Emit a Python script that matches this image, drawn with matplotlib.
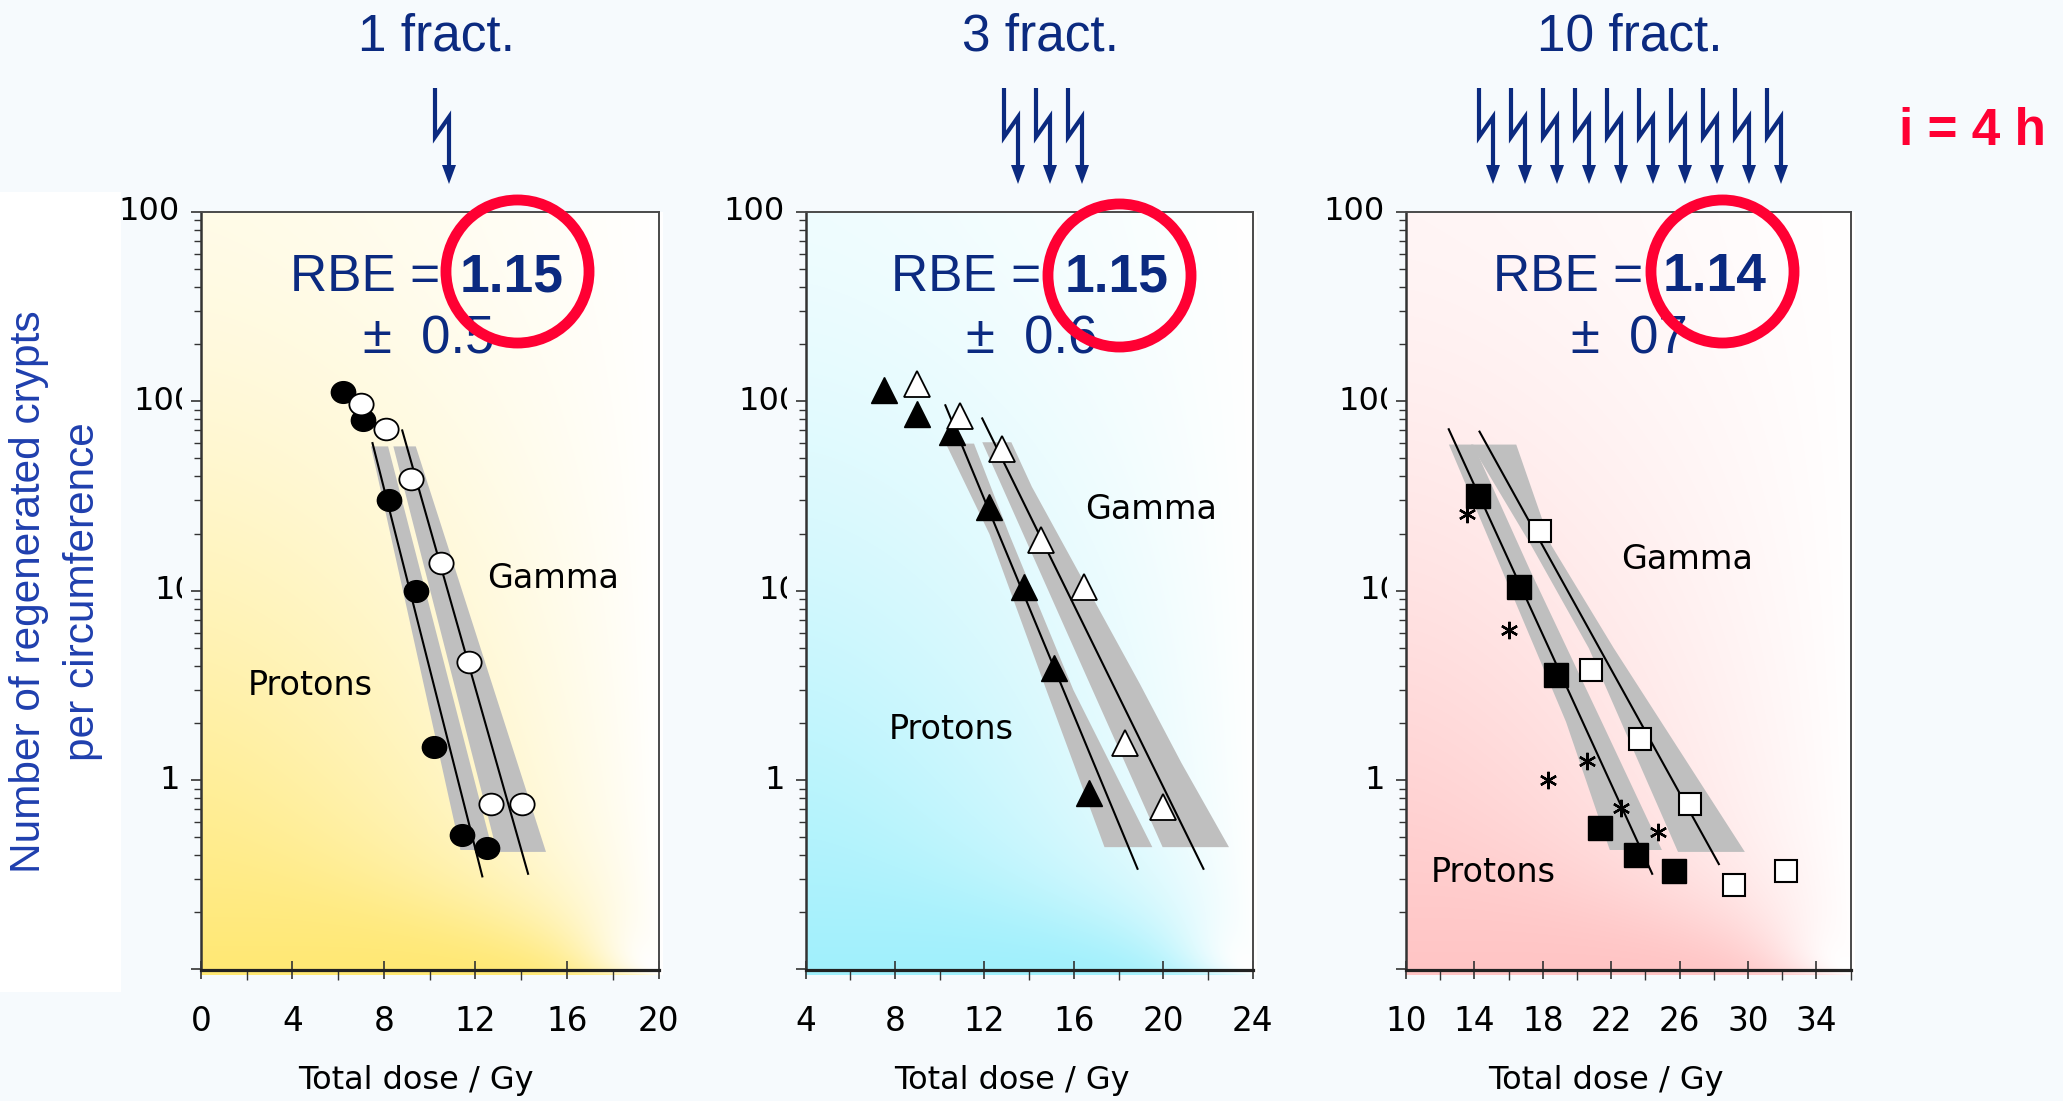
import numpy as np
import matplotlib
matplotlib.use("Agg")
import matplotlib.pyplot as plt
from matplotlib.path import Path
from matplotlib.patches import Rectangle, Polygon
from matplotlib.transforms import Affine2D, Bbox, TransformedBbox, offset_copy
from matplotlib.ticker import LogLocator, MultipleLocator, NullFormatter, FixedLocator
from matplotlib.colors import to_rgb

# ---------------------------------------------------------------- data
fractions = [1, 3, 10]
titles = ["1 fract.", "3 fract.", "10 fract."]
interval_label = "i = 4 h"
rbe_values = ["1.15", "1.15", "1.14"]
rbe_errors = ["\u00b1 0.5", "\u00b1 0.6", "\u00b1 07"]

x_limits = [(0, 20), (4, 24), (10, 36)]
x_major_ticks = [[0, 4, 8, 12, 16, 20], [4, 8, 12, 16, 20, 24],
                 [10, 14, 18, 22, 26, 30, 34]]
y_tick_values = [1000, 100, 10, 1]
y_tick_labels = ["100", "100", "10", "1"]

# 1 fraction
dose1_protons = [6.2, 7.1, 8.2, 9.4, 10.2, 11.4, 12.5]
crypts1_protons = [112, 79, 30, 9.9, 1.5, 0.51, 0.44]
dose1_gamma = [7.0, 8.1, 9.2, 10.5, 11.7, 12.7, 14.05]
crypts1_gamma = [96, 71, 39, 14, 4.2, 0.75, 0.75]
fit1_protons_dose = [7.5, 12.3]
fit1_protons_crypts = [60, 0.31]
fit1_gamma_dose = [8.8, 14.3]
fit1_gamma_crypts = [70, 0.32]
band1_protons_levels = [58, 0.43]
band1_protons_low = [7.41, 11.32]
band1_protons_high = [8.16, 12.72]
band1_gamma_levels = [58, 0.42]
band1_gamma_low = [8.39, 12.92]
band1_gamma_high = [9.37, 15.06]

# 3 fractions
dose3f_protons = [7.5, 9.0, 10.55, 12.2, 13.75, 15.1, 16.7]
crypts3f_protons = [115, 85, 69, 27.6, 10.4, 3.9, 0.85]
dose3f_gamma = [9.0, 10.9, 12.8, 14.55, 16.45, 18.3, 20.0]
crypts3f_gamma = [123, 83, 56, 18.4, 10.4, 1.56, 0.72]
fit3f_protons_dose = [10.25, 18.85]
fit3f_protons_crypts = [95, 0.34]
fit3f_gamma_dose = [11.9, 21.8]
fit3f_gamma_crypts = [81, 0.34]
band3f_protons_levels = [60, 20, 3, 0.445]
band3f_protons_low = [10.25, 12.2, 14.75, 17.35]
band3f_protons_high = [11.51, 13.08, 15.96, 19.49]
band3f_gamma_levels = [61, 35.5, 3.24, 1.24, 0.445]
band3f_gamma_low = [11.88, 12.77, 16.69, 18.27, 19.95]
band3f_gamma_high = [13.18, 14.1, 18.93, 20.79, 22.92]

# 10 fractions
dose10_protons = [14.2, 16.6, 18.75, 21.35, 23.45, 25.7]
crypts10_protons = [31.6, 10.5, 3.6, 0.56, 0.40, 0.33]
dose10_gamma = [17.85, 20.8, 23.7, 26.6, 29.2, 32.2]
crypts10_gamma = [20.7, 3.8, 1.65, 0.75, 0.28, 0.33]
dose10_other = [13.55, 16.05, 18.3, 20.6, 22.55, 24.75]
crypts10_other = [25.2, 6.2, 1.0, 1.26, 0.71, 0.53]
fit10_protons_dose = [12.5, 24.4]
fit10_protons_crypts = [71, 0.32]
fit10_gamma_dose = [14.3, 28.3]
fit10_gamma_crypts = [69, 0.36]
band10_protons_levels = [59.3, 13.1, 2.04, 0.43]
band10_protons_low = [12.48, 15.55, 19.33, 21.89]
band10_protons_high = [13.91, 17.19, 21.42, 24.94]
band10_gamma_levels = [59.3, 17.5, 5.0, 0.42]
band10_gamma_low = [13.77, 17.28, 20.66, 25.88]
band10_gamma_high = [16.42, 18.46, 22.12, 29.79]

# ---------------------------------------------------------------- style
W_PX, H_PX, DPI = 2063, 1101, 100
BG = "#f6fafd"
NAVY = "#0b2a80"
BLUE = "#1f3fae"
RED = "#ff0033"
BAND = "#bfbfbf"
SPINE = "#333333"
HELV = ["Liberation Sans", "DejaVu Sans"]
plt.rcParams["font.family"] = ["DejaVu Sans"]


def fx(px):
    return px / W_PX


def fy(py):
    return 1 - py / H_PX


ellipse_marker = Affine2D().scale(1.12, 1.0).transform_path(Path.unit_circle())

panels = [
    dict(left=200.9, right=658.5, color="#ffe873", xlim=x_limits[0],
         xmajor=x_major_ticks[0],
         series=[
             dict(d=dose1_protons, c=crypts1_protons, m=ellipse_marker, ms=17.5, fc="black", mew=1.0),
             dict(d=dose1_gamma, c=crypts1_gamma, m=ellipse_marker, ms=17.5, fc="white", mew=1.3),
         ],
         fits=[(fit1_protons_dose, fit1_protons_crypts), (fit1_gamma_dose, fit1_gamma_crypts)],
         bands=[(band1_protons_levels, band1_protons_low, band1_protons_high),
                (band1_gamma_levels, band1_gamma_low, band1_gamma_high)],
         eq_x=0.522, val_x=0.566, err_x=0.4976, ring=(0.690, 0.921),
         gamma_pos=(0.626, 0.503), protons_pos=(0.1025, 0.362), xlabel_px=416),
    dict(left=805.7, right=1252.6, color="#a0f0fc", xlim=x_limits[1],
         xmajor=x_major_ticks[1],
         series=[
             dict(d=dose3f_protons, c=crypts3f_protons, m="^", ms=18.7, fc="black", mew=1.0),
             dict(d=dose3f_gamma, c=crypts3f_gamma, m="^", ms=18.7, fc="white", mew=1.3),
         ],
         fits=[(fit3f_protons_dose, fit3f_protons_crypts), (fit3f_gamma_dose, fit3f_gamma_crypts)],
         bands=[(band3f_protons_levels, band3f_protons_low, band3f_protons_high),
                (band3f_gamma_levels, band3f_gamma_low, band3f_gamma_high)],
         eq_x=0.526, val_x=0.580, err_x=0.5055, ring=(0.700, 0.917),
         gamma_pos=(0.626, 0.594), protons_pos=(0.1855, 0.3045), xlabel_px=1012),
    dict(left=1406.0, right=1850.5, color="#ffc4c4", xlim=x_limits[2],
         xmajor=x_major_ticks[2],
         series=[
             dict(d=dose10_other, c=crypts10_other, m=(6, 2, 0), ms=12.5, fc="black", mew=1.7),
             dict(d=dose10_protons, c=crypts10_protons, m="s", ms=17.5, fc="black", mew=1.0),
             dict(d=dose10_gamma, c=crypts10_gamma, m="s", ms=15.6, fc="white", mew=1.5),
         ],
         fits=[(fit10_protons_dose, fit10_protons_crypts), (fit10_gamma_dose, fit10_gamma_crypts)],
         bands=[(band10_protons_levels, band10_protons_low, band10_protons_high),
                (band10_gamma_levels, band10_gamma_low, band10_gamma_high)],
         eq_x=0.534, val_x=0.578, err_x=0.5035, ring=(0.712, 0.921),
         gamma_pos=(0.485, 0.529), protons_pos=(0.055, 0.116), xlabel_px=1606),
]
TOP_PX, BOTTOM_PX = 211.6, 969.5


def panel_gradient(color, w_px, h_px):
    """Fill saturated along the bottom and lower left, white towards the upper right."""
    nx, ny = int(w_px), int(h_px)
    u = np.linspace(0, 1, nx)[None, :]
    v = np.linspace(1, 0, ny)[:, None]
    vertical = 0.17 + 0.83 * (1 - v) ** 1.4
    q = 1.4 + 8.0 * np.exp(-v / 0.05)
    horizontal = 1 - u ** q
    inten = vertical * horizontal
    dx = (1 - u) * w_px
    dy = v * h_px
    r = np.hypot(dx, dy)
    theta = np.arctan2(dy, dx)
    glow = np.exp(-(r / 70.0) ** 2) * np.clip(np.sin(2 * theta), 0, 1) ** 0.35
    inten = inten * (1 - glow)
    c = np.array(to_rgb(color))
    return 1 - inten[..., None] * (1 - c)


fig = plt.figure(figsize=(W_PX / DPI, H_PX / DPI), dpi=DPI)
fig.patch.set_facecolor(BG)
fig.add_artist(Rectangle((0, fy(992)), fx(121), fy(192) - fy(992),
                         transform=fig.transFigure, facecolor="white",
                         edgecolor="none", zorder=-5))

for i, p in enumerate(panels):
    l, r = p["left"], p["right"]
    rect = [fx(l), fy(BOTTOM_PX), fx(r) - fx(l), fy(TOP_PX) - fy(BOTTOM_PX)]

    # background fill slightly larger than the frame
    bg = fig.add_axes([fx(l), fy(BOTTOM_PX + 5), fx(r + 4) - fx(l),
                       fy(TOP_PX) - fy(BOTTOM_PX + 5)], zorder=0)
    bg.imshow(panel_gradient(p["color"], r + 4 - l, BOTTOM_PX + 5 - TOP_PX),
              extent=(0, 1, 0, 1), aspect="auto", interpolation="bilinear")
    bg.set_axis_off()

    ax = fig.add_axes(rect, zorder=2)
    ax.patch.set_visible(False)
    ax.set_yscale("log")
    ax.set_xlim(*p["xlim"])
    ax.set_ylim(0.1, 1000)

    for levels, lo, hi in p["bands"]:
        ax.fill_betweenx(levels, lo, hi, color=BAND, lw=0, zorder=1)
    for fd, fc in p["fits"]:
        ax.plot(fd, fc, color="black", lw=1.5, zorder=2)
    for s in p["series"]:
        ax.plot(s["d"], s["c"], ls="none", marker=s["m"], ms=s["ms"],
                mfc=s["fc"], mec="black", mew=s["mew"], zorder=3)

    # axes frame and ticks
    for side in ["top", "right"]:
        ax.spines[side].set_color("#4a4a4a")
        ax.spines[side].set_linewidth(1.4)
    ax.spines["left"].set_color(SPINE)
    ax.spines["left"].set_linewidth(1.8)
    ax.spines["bottom"].set_color("#222222")
    ax.spines["bottom"].set_linewidth(2.3)

    ax.xaxis.set_major_locator(FixedLocator(p["xmajor"]))
    ax.xaxis.set_minor_locator(MultipleLocator(2))
    ax.set_xticklabels([str(t) for t in p["xmajor"]])
    ax.tick_params(axis="x", which="major", direction="inout", length=13,
                   width=1.2, color=SPINE, pad=19, labelsize=23.5)
    ax.tick_params(axis="x", which="minor", direction="out", length=7,
                   width=1.0, color=SPINE)

    ax.yaxis.set_major_locator(FixedLocator([0.1, 1, 10, 100, 1000]))
    ax.yaxis.set_minor_locator(LogLocator(base=10, subs=np.arange(2, 10) * 1.0, numticks=30))
    ax.yaxis.set_minor_formatter(NullFormatter())
    ax.tick_params(axis="y", which="major", direction="out", length=7,
                   width=1.2, color=SPINE, labelleft=False)
    ax.tick_params(axis="y", which="minor", direction="out", length=5,
                   width=1.0, color=SPINE)

    # decade labels; the two middle ones are partly hidden behind the frame
    ytrans = ax.get_yaxis_transform()
    clip = TransformedBbox(Bbox.from_extents(0, 0, fx(l - 19), 1), fig.transFigure)
    for val, lab in zip(y_tick_values, y_tick_labels):
        hidden = val in (100, 10)
        tr = offset_copy(ytrans, fig=fig, x=-6 if hidden else -21, y=0, units="dots")
        t = fig.text(0, val, lab, transform=tr, ha="right", va="center",
                     fontsize=23, color="black")
        if hidden:
            t.set_clip_on(True)
            t.set_clip_box(clip)

    # RBE annotation with red ring
    ax.text(p["eq_x"], 0.895, "RBE =", transform=ax.transAxes, ha="right",
            va="baseline", fontsize=37, color=NAVY, family=HELV, zorder=5)
    ax.text(p["val_x"], 0.895, rbe_values[i], transform=ax.transAxes, ha="left",
            va="baseline", fontsize=38.5, fontweight="bold", color=NAVY,
            family=HELV, zorder=5)
    ax.text(p["err_x"], 0.8128, rbe_errors[i].replace(" ", "  "),
            transform=ax.transAxes, ha="center", va="baseline", fontsize=38,
            color=NAVY, family=HELV, zorder=5)
    ax.plot([p["ring"][0]], [p["ring"][1]], transform=ax.transAxes, marker="o",
            ms=103, mfc="none", mec=RED, mew=7.8, clip_on=False, zorder=6)

    ax.text(*p["gamma_pos"], "Gamma", transform=ax.transAxes, ha="left",
            va="baseline", fontsize=24, color="black", zorder=5)
    ax.text(*p["protons_pos"], "Protons", transform=ax.transAxes, ha="left",
            va="baseline", fontsize=24, color="black", zorder=5)

    fig.text(fx(p["xlabel_px"]), fy(1080), "Total dose / Gy", ha="center",
             va="center", fontsize=23, color="black")

# y-axis title
fig.text(fx(29), fy(592), "Number of regenerated crypts", rotation=90,
         ha="center", va="center", fontsize=30.5, color=BLUE, family=HELV)
fig.text(fx(83), fy(592), "per circumference", rotation=90,
         ha="center", va="center", fontsize=30.5, color=BLUE, family=HELV)

# fraction headers with lightning arrows
overlay = fig.add_axes([0, 0, 1, 1], zorder=5)
overlay.set_xlim(0, W_PX)
overlay.set_ylim(H_PX, 0)
overlay.set_axis_off()
overlay.patch.set_visible(False)

title_centers = [436, 1041, 1630]
arrow_centers = [449, 1050, 1637]
arrow_step = 32
for n, title, tc, ac in zip(fractions, titles, title_centers, arrow_centers):
    fig.text(fx(tc), fy(50.7), title, ha="center", va="baseline", fontsize=37,
             color=NAVY, family=HELV)
    for k in range(n):
        tx = ac + (k - (n - 1) / 2) * arrow_step
        overlay.plot([tx - 14, tx - 14, tx, tx], [88, 137, 117, 168],
                     color=NAVY, lw=3.0, solid_joinstyle="miter",
                     solid_capstyle="butt")
        overlay.add_patch(Polygon([[tx - 7, 165], [tx + 7, 165], [tx, 184]],
                                  closed=True, facecolor=NAVY, edgecolor="none"))

fig.text(fx(2046), fy(145), interval_label, ha="right", va="baseline",
         fontsize=37, fontweight="bold", color=RED, family=HELV)

fig.savefig("out.png", dpi=DPI, facecolor=BG)
